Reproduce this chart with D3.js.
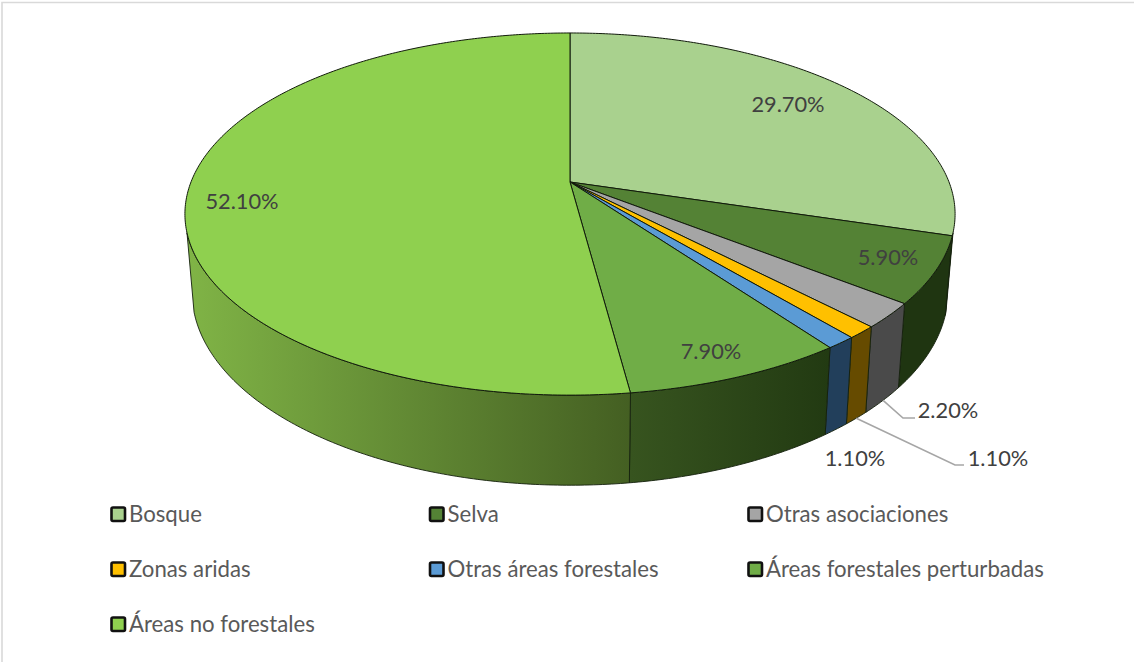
<!DOCTYPE html>
<html lang="es">
<head>
<meta charset="utf-8">
<script src="https://cdn.jsdelivr.net/npm/d3@7/dist/d3.min.js"></script>
<style>
  html, body { margin: 0; padding: 0; background: #fff; }
  svg { display: block; }
  text { font-family: Lato, "Open Sans", sans-serif; }
</style>
</head>
<body>
<svg id="chart" width="1134" height="662"></svg>
<script>
// Land-use shares, in percent, clockwise from twelve o'clock
const categories = ["Bosque", "Selva", "Otras asociaciones", "Zonas aridas",
                    "Otras áreas forestales", "Áreas forestales perturbadas", "Áreas no forestales"];
const shares = [29.7, 5.9, 2.2, 1.1, 1.1, 7.9, 52.1];
const topColors = ["#a9d18e", "#548235", "#a5a5a5", "#ffc000", "#5b9bd5", "#70ad47", "#8fd04f"];
// Wall shade at the left and right end of each slice's outer wall
const wallColors = [
  ["#22380f", "#22380f"], ["#1f3511", "#1f3511"], ["#4a4a4a", "#4a4a4a"], ["#664b00", "#664b00"],
  ["#223f5b", "#223f5b"], ["#37541f", "#223a12"], ["#80b446", "#445f22"]
];

// Label placement, in slice order
const labelAnchors = [[788, 104], [888, 257], [948, 410], [998, 458], [855, 458], [711, 351], [242, 201]];
const leaderBends = [null, null, [[903, 418], [915, 418]], [[955, 465], [964, 465]], null, null, null];

// Perspective disc: a point at polar angle t maps through x = cx + rx*u*s, y = cy + ry*v*s
const persp = 0.177;
const topDisc = { cx: 570, cy: 182, rx: 379, ry: 175.4 };
const baseDisc = { cx: 570, cy: 258, rx: 372, ry: 187 };
const wallFrom = 106 * Math.PI / 180, wallTo = 254 * Math.PI / 180;

function project(disc, t) {
  const u = Math.sin(t), v = -Math.cos(t), s = 1 / (1 - persp * v);
  return [disc.cx + disc.rx * u * s, disc.cy + disc.ry * v * s];
}
function arcPoints(disc, a, b) {
  const n = Math.max(2, Math.ceil(Math.abs(b - a) / 0.01));
  return d3.range(n + 1).map(i => project(disc, a + (b - a) * i / n));
}

const svg = d3.select("#chart");
const line = d3.line();
const pie = d3.pie().sort(null).value(d => d);
const arcs = pie(shares);
const fill = d3.scaleOrdinal(categories, topColors);
const pct = d3.format(".2f");

// Thin frame along the top and left edges
svg.append("path").attr("d", "M2,662V2.5H1134")
  .attr("fill", "none").attr("stroke", "#d9d9d9").attr("stroke-width", 1.6);

// Outer walls, shaded left to right
const walls = arcs.map((d, i) => ({ i, a: Math.max(d.startAngle, wallFrom), b: Math.min(d.endAngle, wallTo) }))
  .filter(w => w.a < w.b);
const defs = svg.append("defs");
walls.forEach(w => {
  const xs = [project(topDisc, w.a)[0], project(topDisc, w.b)[0]];
  const g = defs.append("linearGradient").attr("id", "wall" + w.i)
    .attr("gradientUnits", "userSpaceOnUse")
    .attr("x1", d3.min(xs)).attr("x2", d3.max(xs)).attr("y1", 0).attr("y2", 0);
  g.append("stop").attr("offset", 0).attr("stop-color", wallColors[w.i][0]);
  g.append("stop").attr("offset", 1).attr("stop-color", wallColors[w.i][1]);
});
svg.append("g").selectAll("path").data(walls).join("path")
  .attr("d", w => line(arcPoints(topDisc, w.a, w.b).concat(arcPoints(baseDisc, w.b, w.a))) + "Z")
  .attr("fill", w => `url(#wall${w.i})`)
  .attr("stroke", "#14200c").attr("stroke-width", 0.9).attr("stroke-linejoin", "round");

// Top face of the disc
svg.append("g").selectAll("path").data(arcs).join("path")
  .attr("d", d => line([[topDisc.cx, topDisc.cy]].concat(arcPoints(topDisc, d.startAngle, d.endAngle))) + "Z")
  .attr("fill", (d, i) => fill(categories[i]))
  .attr("stroke", "#111a0b").attr("stroke-width", 1).attr("stroke-linejoin", "round");

// Leader lines for the narrow slices start on the rim of the base
const leaders = arcs.map((d, i) => ({ d, bend: leaderBends[i] })).filter(l => l.bend);
svg.append("g").selectAll("path").data(leaders).join("path")
  .attr("d", l => line([project(baseDisc, (l.d.startAngle + l.d.endAngle) / 2), ...l.bend]))
  .attr("fill", "none").attr("stroke", "#a6a6a6").attr("stroke-width", 1.6);

// Value labels
svg.append("g").selectAll("text").data(shares).join("text")
  .attr("x", (d, i) => labelAnchors[i][0])
  .attr("y", (d, i) => labelAnchors[i][1])
  .attr("dy", "0.35em").attr("text-anchor", "middle")
  .attr("font-size", 21.8).attr("fill", "#404040")
  .text(d => pct(d) + "%");

// Legend: three columns, filled row by row
const legendCol = d3.scalePoint().domain([0, 1, 2]).range([110, 747]);
const legendRow = d3.scalePoint().domain([0, 1, 2]).range([514.5, 624.5]);
const entry = svg.append("g").selectAll("g").data(categories).join("g")
  .attr("transform", (d, i) => `translate(${legendCol(i % 3)},${legendRow(Math.floor(i / 3))})`);
entry.append("rect")
  .attr("x", 1.5).attr("y", -7).attr("width", 13.5).attr("height", 13.5).attr("rx", 1.5)
  .attr("fill", d => fill(d)).attr("stroke", "#111").attr("stroke-width", 2.6);
entry.append("text")
  .attr("x", 19).attr("dy", "0.35em")
  .attr("font-size", 22.2).attr("fill", "#595959")
  .text(d => d);
</script>
</body>
</html>
